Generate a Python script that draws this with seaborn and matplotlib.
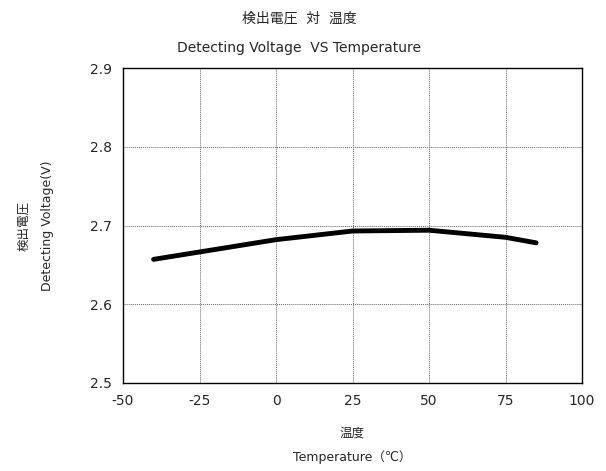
import matplotlib.pyplot as plt
import seaborn as sb
import pandas as pd

temperature = [-40, 0, 25, 50, 75, 85]
voltage = [2.657, 2.682, 2.693, 2.694, 2.685, 2.678]

x_ticks = [-50, -25, 0, 25, 50, 75, 100]
y_ticks = [2.5, 2.6, 2.7, 2.8, 2.9]

sb.set_style('white')
plt.rcParams['font.family'] = ['DejaVu Sans', 'Noto Sans CJK JP']

df = pd.DataFrame({'temp': temperature, 'volt': voltage})

fig = plt.figure(figsize=(6.06, 4.71), dpi=100)
ax = fig.add_axes([123 / 606, 1 - 383 / 471, (582 - 123) / 606, (383 - 68) / 471])
sb.lineplot(data=df, x='temp', y='volt', color='black', linewidth=3.5, ax=ax)

ax.set_xlim(-50, 100)
ax.set_ylim(2.5, 2.9)
ax.set_xticks(x_ticks)
ax.set_yticks(y_ticks)
ax.set_xticklabels([str(t) for t in x_ticks], fontsize=10)
ax.set_yticklabels([f"{t:.1f}" for t in y_ticks], fontsize=10)
ax.tick_params(length=0, pad=8)
ax.grid(True, color='#666666', linestyle=(0, (1, 1)), linewidth=0.7)
for s in ax.spines.values():
  s.set_color('black')
  s.set_linewidth(1.0)

ax.set_xlabel('温度\nTemperature（℃）', fontsize=9, linespacing=2.0, labelpad=13)
ax.set_ylabel('検出電圧\nDetecting Voltage(V)', fontsize=9, linespacing=2.0, labelpad=26)
fig.suptitle('検出電圧  対  温度\n\nDetecting Voltage  VS Temperature', x=299 / 606, y=1 - 12 / 471,
             fontsize=10, linespacing=1.04, va='top')

fig.savefig('out.png', dpi=100)
